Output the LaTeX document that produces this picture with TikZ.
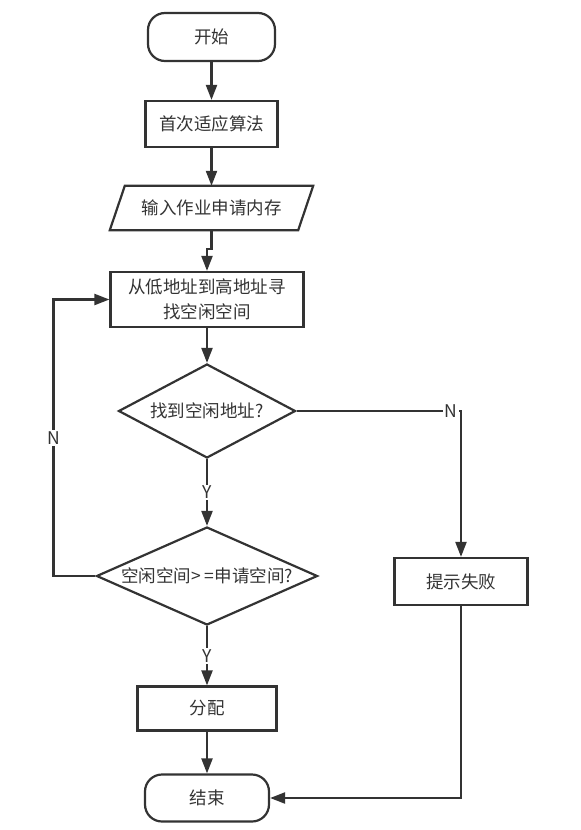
\documentclass[tikz,border=0pt]{standalone}
\usepackage{fontspec}
\setmainfont{Noto Sans CJK SC}
\usetikzlibrary{shapes.geometric,arrows.meta}
\definecolor{ink}{HTML}{333333}

\begin{document}
\begin{tikzpicture}[x=1pt,y=-1pt,
    every node/.style={font=\fontsize{17.5}{25}\selectfont, text=ink},
    base/.style={draw=ink, line width=2.2pt, inner sep=0pt},
    term/.style={base, rectangle, rounded corners=17pt},
    proc/.style={base, rectangle},
    decision/.style={base, diamond},
    lbl/.style={fill=white, inner sep=1.5pt},
    line/.style={draw=ink, line width=2.2pt},
    arr/.style={line, -{Triangle[length=15pt,width=11pt]}}]
        \useasboundingbox (0,0) rectangle (581,830);

        \node[term, minimum width=127pt, minimum height=48pt] (start) at (211.5,37) {开始};
        \node[proc, minimum width=132pt, minimum height=46pt] (first) at (211.5,124) {首次适应算法};

        \node[minimum width=203pt, minimum height=44pt, inner sep=0pt] (input) at (211.5,208) {输入作业申请内存};
        \draw[line] ([xshift=15pt]input.north west) -- (input.north east)
            -- ([xshift=-15pt]input.south east) -- (input.south west) -- cycle;

        \node[proc, minimum width=193pt, minimum height=55pt, align=center] (search) at (207,299.5)
            {从低地址到高地址寻\\找空闲空间};

        \node[decision, aspect=1.9, minimum width=177pt, minimum height=94pt] (found) at (207,411) {找到空闲地址?};
        \node[decision, aspect=2.3, minimum width=221pt, minimum height=98pt] (enough) at (207,576)
            {空闲空间>\hspace{4pt}=申请空间?};

        \node[proc, minimum width=133pt, minimum height=47pt] (fail) at (461,581.5) {提示失败};
        \node[proc, minimum width=139pt, minimum height=44pt] (alloc) at (207,708.5) {分配};
        \node[term, minimum width=124pt, minimum height=47pt] (finish) at (207,798) {结束};

        \draw[arr] (start) -- (first);
        \draw[arr] (first) -- (input);
        \draw[arr] (input.south) -- ++(0,19) -| (search.north);
        \draw[arr] (search) -- (found);
        \draw[arr] (found) -- node[lbl] {Y} (enough);
        \draw[arr] (found.east) -| node[lbl, pos=0.47] {N} (fail.north);
        \draw[arr] (enough.west) -- ++(-42,0) |- node[lbl, pos=0.25] {N} (search.west);
        \draw[arr] (enough) -- node[lbl] {Y} (alloc);
        \draw[arr] (alloc) -- (finish);
        \draw[arr] (fail.south) |- (finish.east);

    \end{tikzpicture}
\end{document}
